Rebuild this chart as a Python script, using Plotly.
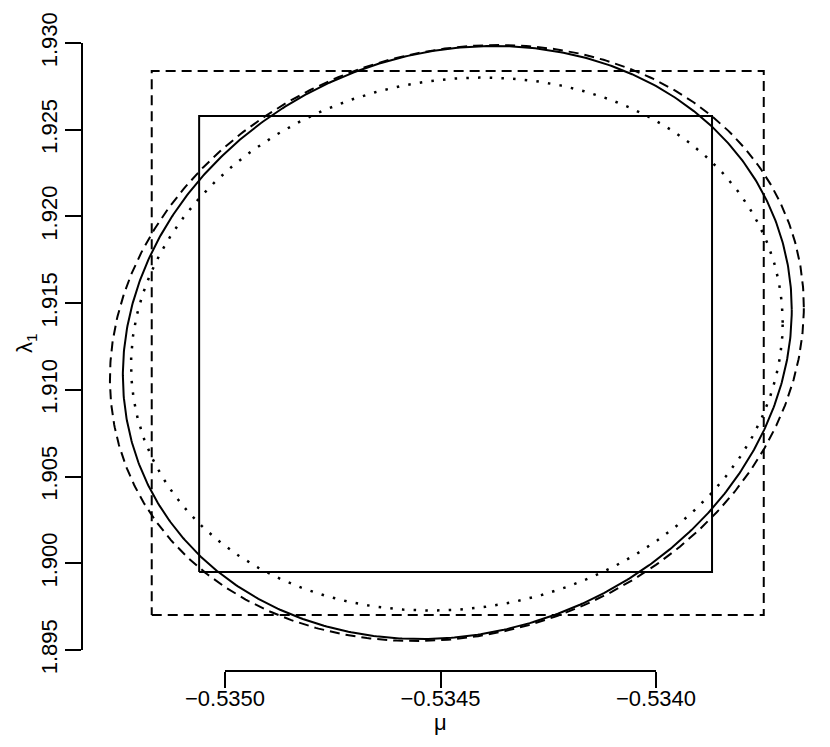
import numpy as np
import plotly.graph_objects as go

# ---------------- data ----------------
x_ticks = [-0.5350, -0.5345, -0.5340]
x_tick_labels = ["\u22120.5350", "\u22120.5345", "\u22120.5340"]
y_ticks = [1.895, 1.900, 1.905, 1.910, 1.915, 1.920, 1.925, 1.930]
y_tick_labels = ["1.895", "1.900", "1.905", "1.910", "1.915", "1.920", "1.925", "1.930"]

# rectangles (interval boxes): [low, high]
rect_solid_mu = [-0.53506, -0.53387]
rect_solid_lam = [1.89950, 1.92579]
rect_dashed_mu = [-0.53517, -0.53375]
rect_dashed_lam = [1.89702, 1.92838]

# confidence ellipses: centre, half extent in mu, half extent in lambda, correlation
ell_styles = ["solid", "dashed", "dotted"]
ell_center_mu = [-0.534461, -0.534462, -0.534462]
ell_center_lam = [1.91273, 1.91270, 1.91264]
ell_half_mu = [0.000776, 0.000805, 0.000756]
ell_half_lam = [0.017096, 0.017183, 0.015367]
ell_rho = [0.11, 0.12, 0.08]

# ---------------- layout geometry ----------------
W, H = 830, 747
OFF = 8                           # page body margin of the html
ML, MR, MT, MB = 82 - OFF, 10, 20 - OFF, 84
PW, PH = W - ML - MR, H - MT - MB
# pixel anchors of the ticks (figure coordinates)
px_x0, px_x1 = 225 - OFF, 656 - OFF
py_y0, py_y1 = 650 - OFF, 43 - OFF
sx = (px_x1 - px_x0) / (x_ticks[-1] - x_ticks[0])
sy = (py_y0 - py_y1) / (y_ticks[-1] - y_ticks[0])
x_range = [x_ticks[0] - (px_x0 - ML) / sx, x_ticks[0] + (ML + PW - px_x0) / sx]
y_range = [y_ticks[0] - (MT + PH - py_y0) / sy, y_ticks[0] + (py_y0 - MT) / sy]
x_dom = [(px_x0 - ML) / PW, (px_x1 - ML) / PW]
y_dom = [(MT + PH - py_y0) / PH, (MT + PH - py_y1) / PH]


def paper_x(px):
    return (px - OFF - ML) / PW


def paper_y(py):
    return (MT + PH - (py - OFF)) / PH


DASH = {"solid": "solid", "dashed": "10px,6px", "dotted": "2.5px,9.2px"}
WID = {"solid": 2, "dashed": 2, "dotted": 2.5}
FONT = "Liberation Sans, Arial, Helvetica, sans-serif"
FS = 22

fig = go.Figure()

# rectangles
for mu, lam, st in [(rect_solid_mu, rect_solid_lam, "solid"),
                    (rect_dashed_mu, rect_dashed_lam, "dashed")]:
    fig.add_trace(go.Scatter(
        x=[mu[0], mu[1], mu[1], mu[0], mu[0]],
        y=[lam[0], lam[0], lam[1], lam[1], lam[0]],
        mode="lines", line=dict(color="black", width=WID[st], dash=DASH[st]),
        hoverinfo="skip", showlegend=False))

# ellipses
t = np.linspace(0, 2 * np.pi, 721)
for st, cx, cy, ax, ay, r in zip(ell_styles, ell_center_mu, ell_center_lam,
                                  ell_half_mu, ell_half_lam, ell_rho):
    ex = cx + ax * np.cos(t)
    ey = cy + ay * (r * np.cos(t) + np.sqrt(1 - r * r) * np.sin(t))
    fig.add_trace(go.Scatter(
        x=ex, y=ey, mode="lines",
        line=dict(color="black", width=WID[st], dash=DASH[st]),
        hoverinfo="skip", showlegend=False))

# dummy trace to carry the detached (R-style) axes
fig.add_trace(go.Scatter(x=[x_ticks[0]], y=[y_ticks[0]], xaxis="x2", yaxis="y2",
                         mode="markers", marker=dict(opacity=0),
                         hoverinfo="skip", showlegend=False))

fig.update_layout(
    width=W, height=H,
    margin=dict(l=ML, r=MR, t=MT, b=MB, autoexpand=False),
    paper_bgcolor="white", plot_bgcolor="rgba(0,0,0,0)",
    font=dict(family=FONT, color="black", size=FS),
    xaxis=dict(range=x_range, visible=False, domain=[0, 1], automargin=False),
    yaxis=dict(range=y_range, visible=False, domain=[0, 1], automargin=False),
    xaxis2=dict(domain=x_dom, range=[x_ticks[0], x_ticks[-1]], anchor="free",
                position=0, showline=True, linecolor="black", linewidth=2,
                ticks="outside", ticklen=16, tickwidth=2, tickcolor="black",
                tickmode="array", tickvals=x_ticks, ticktext=x_tick_labels,
                showgrid=False, zeroline=False, ticklabelstandoff=-8, automargin=False,
                tickfont=dict(size=FS, family=FONT)),
    yaxis2=dict(domain=y_dom, range=[y_ticks[0], y_ticks[-1]], anchor="free",
                position=0, showline=True, linecolor="black", linewidth=2,
                ticks="outside", ticklen=16, tickwidth=2, tickcolor="black",
                tickmode="array", tickvals=y_ticks, ticktext=y_tick_labels,
                tickangle=-90, showgrid=False, zeroline=False, ticklabelstandoff=-1,
                automargin=False, tickfont=dict(size=FS, family=FONT)),
    annotations=[
        dict(text="\u03bb<sub>1</sub>", textangle=-90, showarrow=False,
             xref="paper", yref="paper", x=paper_x(26), y=paper_y(343),
             xanchor="center", yanchor="middle", font=dict(size=FS, family=FONT)),
        dict(text="\u03bc", showarrow=False,
             xref="paper", yref="paper", x=paper_x(440), y=paper_y(722),
             xanchor="center", yanchor="middle", font=dict(size=FS, family=FONT)),
    ],
)

fig.write_html("out.html")
